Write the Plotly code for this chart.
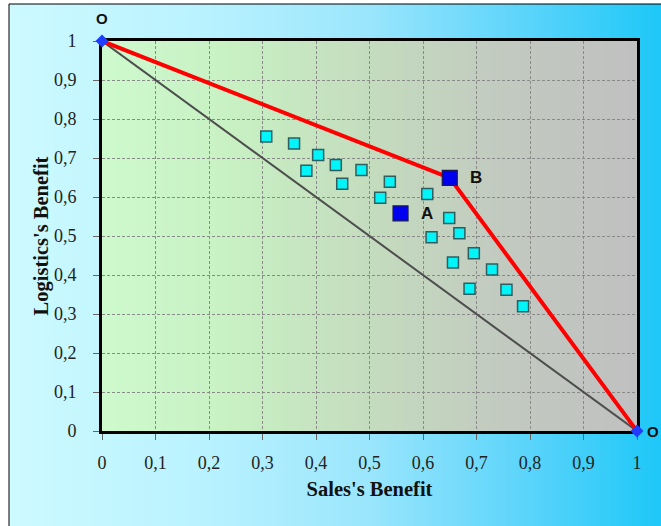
import zlib, struct, base64
import plotly.graph_objects as go

# ---------------- data ----------------
sales_pts = [0.307, 0.359, 0.404, 0.382, 0.437, 0.485, 0.449, 0.538, 0.520, 0.608,
             0.616, 0.649, 0.668, 0.695, 0.656, 0.729, 0.687, 0.756, 0.787]
logistics_pts = [0.755, 0.737, 0.708, 0.667, 0.682, 0.669, 0.634, 0.639, 0.598, 0.608,
                 0.497, 0.546, 0.507, 0.456, 0.432, 0.414, 0.365, 0.362, 0.320]
special_names = ["A", "B"]
special_sales = [0.558, 0.650]
special_logistics = [0.558, 0.649]
frontier_sales = [0, 0.650, 1]
frontier_logistics = [1, 0.649, 0]
diag_sales = [0, 1]
diag_logistics = [1, 0]
origin_names = ["O", "O"]
tick_vals = [0, 0.1, 0.2, 0.3, 0.4, 0.5, 0.6, 0.7, 0.8, 0.9, 1]
tick_text = ["0", "0,1", "0,2", "0,3", "0,4", "0,5", "0,6", "0,7", "0,8", "0,9", "1"]


# ---------------- gradient helper ----------------
def gradient_uri(stops, w=256):
    cols = []
    for i in range(w):
        t = i / (w - 1)
        for (t0, c0), (t1, c1) in zip(stops[:-1], stops[1:]):
            if t0 <= t <= t1:
                f = (t - t0) / (t1 - t0) if t1 > t0 else 0
                cols.append(tuple(int(round(a + (b - a) * f)) for a, b in zip(c0, c1)))
                break
    row = b'\x00' + bytes(v for c in cols for v in c)
    raw = row * 2

    def chunk(t, d):
        return struct.pack('>I', len(d)) + t + d + struct.pack('>I', zlib.crc32(t + d) & 0xffffffff)
    png = (b'\x89PNG\r\n\x1a\n'
           + chunk(b'IHDR', struct.pack('>IIBBBBB', w, 2, 8, 2, 0, 0, 0))
           + chunk(b'IDAT', zlib.compress(raw))
           + chunk(b'IEND', b''))
    return 'data:image/png;base64,' + base64.b64encode(png).decode()


paper_grad = gradient_uri([(0.0, (205, 250, 255)), (0.3, (185, 242, 255)),
                           (0.55, (155, 230, 252)), (0.8, (90, 212, 250)),
                           (1.0, (30, 200, 248))])
plot_grad = gradient_uri([(0.0, (205, 250, 205)), (0.25, (200, 240, 195)),
                          (0.5, (196, 220, 190)), (0.75, (194, 202, 192)),
                          (1.0, (192, 192, 192))])

W, H = 661, 526
L, R, T, B = 102, 24, 41, 95
pw, ph = W - L - R, H - T - B


def px(x):
    return (x - L) / pw


def py(y):
    return (H - B - y) / ph


fig = go.Figure()

fig.add_trace(go.Scatter(x=diag_sales, y=diag_logistics, mode="lines",
                         line=dict(color="#4d4d4d", width=2), cliponaxis=False, hoverinfo="skip"))
fig.add_trace(go.Scatter(x=frontier_sales, y=frontier_logistics, mode="lines",
                         line=dict(color="#ff0000", width=4), cliponaxis=False))
fig.add_trace(go.Scatter(x=sales_pts, y=logistics_pts, mode="markers",
                         marker=dict(symbol="square", size=11, color="#00f4f8",
                                     line=dict(color="#2e5e60", width=1.5))))
fig.add_trace(go.Scatter(x=special_sales, y=special_logistics, mode="markers",
                         marker=dict(symbol="square", size=15, color="#0000f0",
                                     line=dict(color="#1a1a55", width=1.2))))
fig.add_trace(go.Scatter(x=diag_sales, y=diag_logistics, mode="markers",
                         marker=dict(symbol="diamond", size=10, color="#1f3cff"),
                         cliponaxis=False))

annotations = []
for n, x, y in zip(special_names, special_sales, special_logistics):
    annotations.append(dict(x=x, y=y, text="<b>%s</b>" % n, showarrow=False,
                            xshift=26, yshift=0,
                            font=dict(family="Liberation Sans", size=17, color="#111")))
annotations.append(dict(x=diag_sales[0], y=diag_logistics[0], text="<b>%s</b>" % origin_names[0],
                        showarrow=False, yshift=23,
                        font=dict(family="Liberation Sans", size=15, color="#111")))
annotations.append(dict(x=diag_sales[1], y=diag_logistics[1], text="<b>%s</b>" % origin_names[1],
                        showarrow=False, xshift=16,
                        font=dict(family="Liberation Sans", size=15, color="#111")))

axis_common = dict(range=[0, 1], tickvals=tick_vals, ticktext=tick_text,
                   showline=True, linecolor="black", linewidth=3, mirror=True,
                   ticks="outside", ticklen=6, tickcolor="#666", tickwidth=1,
                   showgrid=True, gridcolor="#8a8a8a", gridwidth=1, griddash="3px,2px",
                   zeroline=False, fixedrange=True, layer="below traces",
                   tickfont=dict(family="Liberation Serif", size=18, color="#222"))

fig.update_layout(
    width=W, height=H,
    margin=dict(l=L, r=R, t=T, b=B, autoexpand=False),
    paper_bgcolor="white", plot_bgcolor="rgba(0,0,0,0)",
    showlegend=False,
    xaxis=dict(**axis_common, ticklabelstandoff=7,
               title=dict(text="<b>Sales's Benefit</b>", standoff=11,
                          font=dict(family="Liberation Serif", size=20.5, color="#111"))),
    yaxis=dict(**axis_common, ticklabelstandoff=13,
               title=dict(text="<b>Logistics's Benefit</b>", standoff=0,
                          font=dict(family="Liberation Serif", size=20.5, color="#111"))),
    images=[
        dict(source=paper_grad, xref="paper", yref="paper", x=px(9), y=py(4),
             sizex=px(W) - px(9), sizey=py(4) - py(H), xanchor="left", yanchor="top",
             sizing="stretch", layer="below"),
        dict(source=plot_grad, xref="paper", yref="paper", x=0, y=1, sizex=1, sizey=1,
             xanchor="left", yanchor="top", sizing="stretch", layer="below"),
    ],
    shapes=[
        dict(type="line", xref="paper", yref="paper", x0=px(9), x1=px(W), y0=py(4), y1=py(4),
             line=dict(color="black", width=1)),
        dict(type="line", xref="paper", yref="paper", x0=px(9), x1=px(9), y0=py(4), y1=py(H),
             line=dict(color="black", width=1)),
    ],
    annotations=annotations,
    separators=", ",
)

fig.write_html("out.html", config={"displayModeBar": False},
               post_script="document.body.style.margin='0';document.body.style.overflow='hidden';")
